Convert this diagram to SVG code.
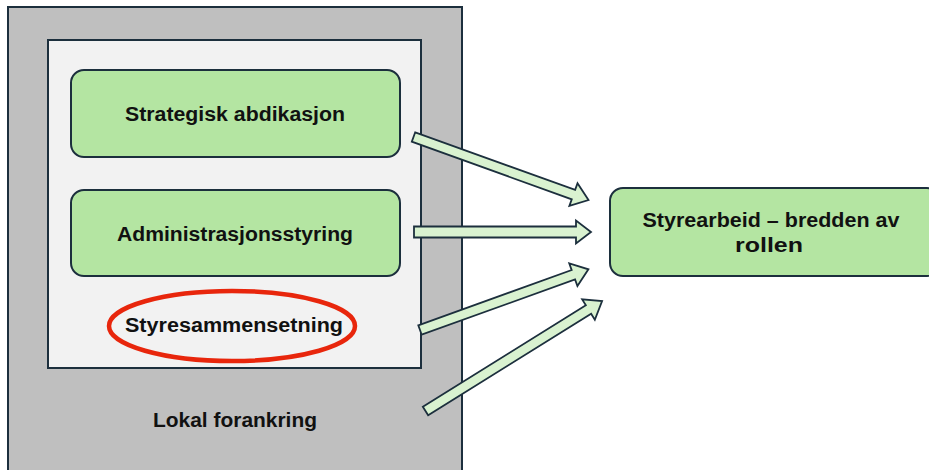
<svg xmlns="http://www.w3.org/2000/svg" width="929" height="470" viewBox="0 0 929 470">
  <style>
    .frame { stroke: #1c2f3d; stroke-width: 2; }
    .box { fill: #b4e5a2; stroke: #1c2f3d; stroke-width: 2; }
    .label { font-family: "Liberation Sans", Arial, sans-serif; font-weight: bold; font-size: 19.5px; fill: #111; text-anchor: middle; }
    .arrow { fill: #d9f2d0; stroke: #1c2f3d; stroke-width: 1.8; stroke-linejoin: miter; }
  </style>

  <!-- outer context frame -->
  <g id="lokal-forankring">
    <rect class="frame" x="8" y="7" width="454" height="475" fill="#bfbfbf"/>
    <text class="label" x="235" y="427" textLength="164" lengthAdjust="spacingAndGlyphs">Lokal forankring</text>
  </g>

  <!-- inner panel -->
  <g id="panel">
    <rect class="frame" x="48" y="40" width="373" height="328" fill="#f2f2f2"/>
  </g>

  <g id="strategisk-abdikasjon">
    <rect class="box" x="71" y="70" width="329" height="87" rx="13"/>
    <text class="label" x="235" y="121" textLength="220" lengthAdjust="spacingAndGlyphs">Strategisk abdikasjon</text>
  </g>

  <g id="administrasjonsstyring">
    <rect class="box" x="71" y="190" width="329" height="86" rx="13"/>
    <text class="label" x="235" y="240.5" textLength="236" lengthAdjust="spacingAndGlyphs">Administrasjonsstyring</text>
  </g>

  <g id="styresammensetning">
    <ellipse cx="232" cy="326" rx="123" ry="35" fill="none" stroke="#e8260c" stroke-width="4.5"/>
    <text class="label" x="234" y="332" textLength="218" lengthAdjust="spacingAndGlyphs">Styresammensetning</text>
  </g>

  <g id="styrearbeid">
    <rect class="box" x="610" y="188" width="330" height="88" rx="13"/>
    <text class="label" x="771" y="226.5" textLength="257" lengthAdjust="spacingAndGlyphs">Styrearbeid – bredden av</text>
    <text class="label" x="769" y="252" textLength="68" lengthAdjust="spacingAndGlyphs">rollen</text>
  </g>

  <!-- block arrows: tail at origin, pointing along +x -->
  <g id="connectors">
    <g transform="translate(413.5,137) rotate(19.8)">
      <polygon class="arrow" points="0,-5 170,-5 170,-12 186,0 170,12 170,5 0,5"/>
    </g>
    <g transform="translate(414,232) rotate(0)">
      <polygon class="arrow" points="0,-5.5 162,-5.5 162,-11.5 177,0 162,11.5 162,5.5 0,5.5"/>
    </g>
    <g transform="translate(420,330) rotate(-19.8)">
      <polygon class="arrow" points="0,-5 163,-5 163,-12 179,0 163,12 163,5 0,5"/>
    </g>
    <g transform="translate(425.5,411) rotate(-31.9)">
      <polygon class="arrow" points="0,-5 192,-5 192,-12 208,0 192,12 192,5 0,5"/>
    </g>
  </g>
</svg>
